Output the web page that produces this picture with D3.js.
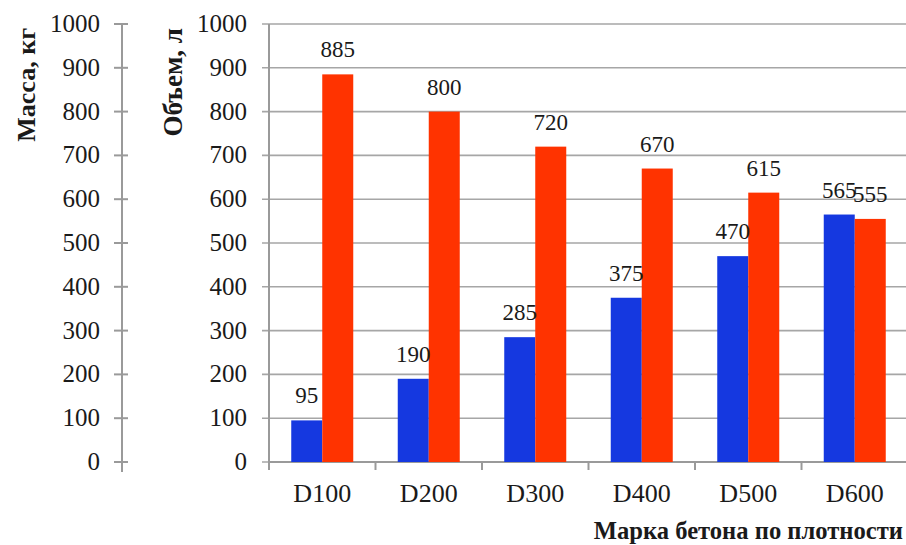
<!DOCTYPE html>
<html>
<head>
<meta charset="utf-8">
<script src="https://cdn.jsdelivr.net/npm/d3@7"></script>
<style>
  html, body { margin: 0; padding: 0; background: #fff; }
  svg { display: block; }
  text { font-family: "Liberation Serif", "Times New Roman", serif; fill: #1a1a1a; }
</style>
</head>
<body>
<svg id="chart" width="906" height="545"></svg>
<script>
// Concrete density grades and the mass / volume per grade
const categories = ["D100", "D200", "D300", "D400", "D500", "D600"];
const massValues = [95, 190, 285, 375, 470, 565];
const volumeValues = [885, 800, 720, 670, 615, 555];
const yTicks = [0, 100, 200, 300, 400, 500, 600, 700, 800, 900, 1000];

const svg = d3.select("#chart");
const W = 906, H = 545;

const plotLeft = 269, plotRight = 908, plotTop = 24, plotBottom = 462;
const massAxisX = 122;

const x = d3.scaleBand().domain(categories).range([plotLeft, plotRight]).padding(0);
const y = d3.scaleLinear().domain([0, 1000]).range([plotBottom, plotTop]);
const barW = 31;

const gridColor = "#a6a6a6";
const axisColor = "#9a9a9a";
const blue = "#1538e0";
const red = "#ff3300";

// Horizontal gridlines and outward ticks on the volume axis
svg.append("g").selectAll("line.grid").data(yTicks).join("line")
  .attr("x1", plotLeft - 7).attr("x2", W)
  .attr("y1", d => y(d)).attr("y2", d => y(d))
  .attr("stroke", gridColor).attr("stroke-width", 1.6);

// Volume axis line
svg.append("line")
  .attr("x1", plotLeft).attr("x2", plotLeft)
  .attr("y1", plotTop).attr("y2", plotBottom + 8)
  .attr("stroke", axisColor).attr("stroke-width", 2);

// Category axis line and boundary ticks
svg.append("line")
  .attr("x1", plotLeft).attr("x2", W)
  .attr("y1", plotBottom).attr("y2", plotBottom)
  .attr("stroke", axisColor).attr("stroke-width", 2);
const bounds = categories.map(c => x(c)).concat([plotRight]);
svg.append("g").selectAll("line").data(bounds).join("line")
  .attr("x1", d => d).attr("x2", d => d)
  .attr("y1", plotBottom).attr("y2", plotBottom + 8)
  .attr("stroke", axisColor).attr("stroke-width", 2);

// Mass axis (standalone, ticks crossing the line)
svg.append("line")
  .attr("x1", massAxisX).attr("x2", massAxisX)
  .attr("y1", plotTop - 1).attr("y2", plotBottom + 10)
  .attr("stroke", axisColor).attr("stroke-width", 2);
svg.append("g").selectAll("line").data(yTicks).join("line")
  .attr("x1", massAxisX - 8).attr("x2", massAxisX + 6)
  .attr("y1", d => y(d)).attr("y2", d => y(d))
  .attr("stroke", axisColor).attr("stroke-width", 2);

// Tick labels for both value axes
const tickFont = 25;
svg.append("g").selectAll("text").data(yTicks).join("text")
  .attr("x", 100).attr("y", d => y(d) + 8)
  .attr("text-anchor", "end").attr("font-size", tickFont)
  .text(d => d);
svg.append("g").selectAll("text").data(yTicks).join("text")
  .attr("x", 247).attr("y", d => y(d) + 8)
  .attr("text-anchor", "end").attr("font-size", tickFont)
  .text(d => d);

// Axis titles
svg.append("text")
  .attr("transform", `translate(35,28) rotate(-90)`)
  .attr("text-anchor", "end").attr("font-weight", "bold").attr("font-size", 26)
  .text("Масса, кг");
svg.append("text")
  .attr("transform", `translate(182,28) rotate(-90)`)
  .attr("text-anchor", "end").attr("font-weight", "bold").attr("font-size", 27)
  .text("Объем, л");
svg.append("text")
  .attr("x", 903).attr("y", 539)
  .attr("text-anchor", "end").attr("font-weight", "bold").attr("font-size", 24.6)
  .text("Марка бетона по плотности");

// Category labels
svg.append("g").selectAll("text").data(categories).join("text")
  .attr("x", d => x(d) + x.bandwidth() / 2).attr("y", 502)
  .attr("text-anchor", "middle").attr("font-size", 26)
  .text(d => d);

// Bars: mass (blue) left, volume (red) right of each category centre
const cx = d => x(d) + x.bandwidth() / 2;
const massG = svg.append("g");
massG.selectAll("rect").data(categories).join("rect")
  .attr("x", d => cx(d) - barW)
  .attr("y", (d, i) => y(massValues[i]))
  .attr("width", barW)
  .attr("height", (d, i) => plotBottom - y(massValues[i]))
  .attr("fill", blue);
const volG = svg.append("g");
volG.selectAll("rect").data(categories).join("rect")
  .attr("x", d => cx(d))
  .attr("y", (d, i) => y(volumeValues[i]))
  .attr("width", barW)
  .attr("height", (d, i) => plotBottom - y(volumeValues[i]))
  .attr("fill", red);

// Value labels above the bars
const labelFont = 23;
svg.append("g").selectAll("text").data(categories).join("text")
  .attr("x", d => cx(d) - barW / 2)
  .attr("y", (d, i) => y(massValues[i]) - 17)
  .attr("text-anchor", "middle").attr("font-size", labelFont)
  .text((d, i) => massValues[i]);
svg.append("g").selectAll("text").data(categories).join("text")
  .attr("x", d => cx(d) + barW / 2)
  .attr("y", (d, i) => y(volumeValues[i]) - 17)
  .attr("text-anchor", "middle").attr("font-size", labelFont)
  .text((d, i) => volumeValues[i]);
</script>
</body>
</html>
